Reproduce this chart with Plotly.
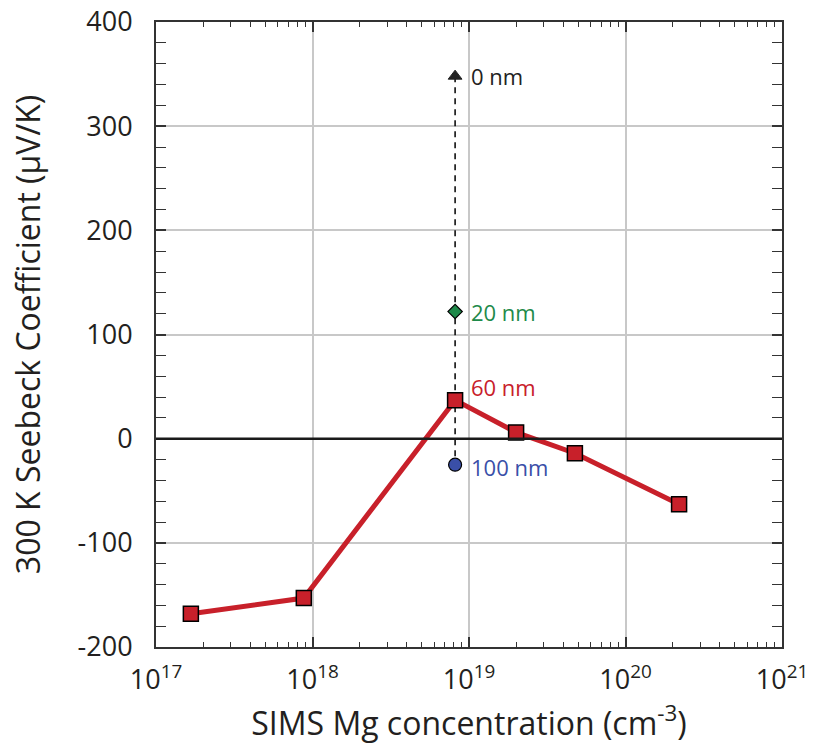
import plotly.graph_objects as go

# Mg-doped series (SIMS concentration, cm^-3) and 300 K Seebeck coefficient (uV/K)
mg_conc = [1.67e17, 8.8e17, 8.15e18, 2.0e19, 4.75e19, 2.2e20]
seebeck = [-168, -153, 37, 6, -14, -63]

# Thickness series measured at a single Mg concentration
thick_conc = 8.15e18
thick_labels = ["0 nm", "20 nm", "60 nm", "100 nm"]
thick_seebeck = [348, 122, 37, -25]

x_tickvals = [1e17, 1e18, 1e19, 1e20, 1e21]
x_ticktext = ["10<sup>17</sup>", "10<sup>18</sup>", "10<sup>19</sup>", "10<sup>20</sup>", "10<sup>21</sup>"]
y_tickvals = [-200, -100, 0, 100, 200, 300, 400]
y_ticktext = ["-200", "-100", "0", "100", "200", "300", "400"]

RED = "#c8202a"
GREEN = "#1e8a4a"
BLUE = "#3a4fa8"
FONT = "Open Sans"
TEXT = "#231f20"

minor_x = [float(m) * 10.0 ** d for d in range(17, 21) for m in range(2, 10)]

fig = go.Figure()

# dashed guide joining the thickness points
fig.add_trace(go.Scatter(
    x=[thick_conc, thick_conc], y=[thick_seebeck[0], thick_seebeck[-1]],
    mode="lines", line=dict(color="black", width=1.5, dash="6px,5px"),
    showlegend=False, hoverinfo="skip"))

fig.add_trace(go.Scatter(
    x=mg_conc, y=seebeck, mode="lines+markers",
    line=dict(color=RED, width=5),
    marker=dict(symbol="square", size=15, color=RED, line=dict(color="black", width=1.5)),
    showlegend=False))

fig.add_trace(go.Scatter(
    x=[thick_conc], y=[thick_seebeck[0]], mode="markers",
    marker=dict(symbol="triangle-up", size=12, color="#222222", line=dict(color="#222222", width=1)),
    showlegend=False))
fig.add_trace(go.Scatter(
    x=[thick_conc], y=[thick_seebeck[1]], mode="markers",
    marker=dict(symbol="diamond", size=11, color=GREEN, line=dict(color="black", width=1.2)),
    showlegend=False))
fig.add_trace(go.Scatter(
    x=[thick_conc], y=[thick_seebeck[3]], mode="markers",
    marker=dict(symbol="circle", size=13, color=BLUE, line=dict(color="black", width=1.2)),
    showlegend=False))

# invisible trace carrying the minor-tick axis
fig.add_trace(go.Scatter(x=[1e17], y=[0], xaxis="x2", mode="markers",
                         marker=dict(opacity=0), showlegend=False, hoverinfo="skip"))

label_colors = ["#222222", GREEN, RED, BLUE]
label_offsets = [0, 0, 13, -2]
for txt, yv, col, dy in zip(thick_labels, thick_seebeck, label_colors, label_offsets):
    fig.add_annotation(x=19.0, y=yv + dy, xref="x", yref="y", text=txt,
                       showarrow=False, xanchor="left", yanchor="middle",
                       font=dict(family=FONT, size=22, color=col))

fig.add_shape(type="line", xref="paper", yref="y", x0=0, x1=1, y0=0, y1=0,
              line=dict(color="#1a1a1a", width=2.5), layer="above")

axis_font = dict(family=FONT, size=27, color=TEXT)
fig.update_layout(
    width=816, height=751,
    margin=dict(l=156, r=34, t=22, b=104),
    paper_bgcolor="white", plot_bgcolor="white",
    font=dict(family=FONT, color=TEXT),
    xaxis=dict(type="log", range=[17, 21], tickvals=x_tickvals, ticktext=x_ticktext,
               tickfont=axis_font, ticks="inside", ticklen=10, tickwidth=1.5, tickcolor="#333",
               ticklabelstandoff=8, automargin=False,
               showline=True, linecolor="#333", linewidth=2, mirror="allticks",
               showgrid=True, gridcolor="#c8c8c8", gridwidth=2, zeroline=False,
               title=dict(text="SIMS Mg concentration (cm<sup>-3</sup>)",
                          font=dict(family=FONT, size=32, color=TEXT), standoff=15)),
    xaxis2=dict(type="log", range=[17, 21], overlaying="x", side="bottom",
                tickvals=minor_x, showticklabels=False, ticks="inside", ticklen=5,
                tickwidth=1.2, tickcolor="#333", mirror="allticks", showline=False,
                showgrid=False, zeroline=False, automargin=False),
    yaxis=dict(range=[-200, 400], tickvals=y_tickvals, ticktext=y_ticktext,
               tickfont=axis_font, ticks="inside", ticklen=10, tickwidth=1.5, tickcolor="#333",
               ticklabelstandoff=16, automargin=False,
               minor=dict(dtick=20, ticks="inside", ticklen=5, tickwidth=1.2, tickcolor="#333"),
               showline=True, linecolor="#333", linewidth=2, mirror="allticks",
               showgrid=True, gridcolor="#c8c8c8", gridwidth=2, zeroline=False,
               title=dict(text="300 K Seebeck Coefficient (\u03bcV/K)",
                          font=dict(family=FONT, size=32, color=TEXT), standoff=27)),
)

fig.write_html("out.html")
